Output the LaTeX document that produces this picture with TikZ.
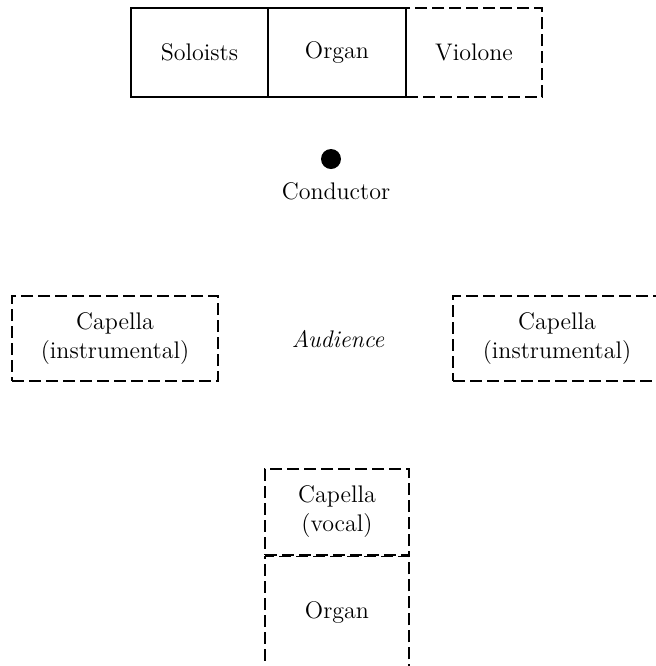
\documentclass[tikz,border=0pt]{standalone}
\usepackage{tikz}
\usetikzlibrary{positioning}

\begin{document}
\begin{tikzpicture}[x=0.5pt,y=-0.5pt,
  part/.style={draw, line width=0.7pt, inner sep=0pt, align=center,
    font=\fontsize{12}{14.5}\selectfont},
  loose/.style={part, dash pattern=on 6pt off 2.5pt}]
\useasboundingbox (0,0) rectangle (656,666);
\clip (0,0) rectangle (656,666);

% front row
\node [part, minimum width=68.5pt, minimum height=44.5pt] (soloists) at (199.5,52.5) {Soloists};
\node [part, minimum width=69pt, minimum height=44.5pt] (organtop) at (337,52.5) {Organ};
\node [loose, minimum width=68pt, minimum height=44.5pt] (violone) at (474,52.5) {Violone};
\draw [line width=0.7pt] (organtop.north east) -- (organtop.south east);

\node [circle, fill, inner sep=0pt, minimum size=10pt] (dot) at (331,159) {};
\node [font=\fontsize{12}{14.5}\selectfont, below=3pt of dot, xshift=2.5pt] (conductor) {Conductor};

% side capellas
\node [loose, minimum width=103pt, minimum height=42.5pt] (capleft) at (115,338.5) {Capella\\(instrumental)};
\node [loose, minimum width=104pt, minimum height=42.5pt] (capright) at (557,338.5) {Capella\\(instrumental)};
\node [font=\fontsize{12}{14.5}\selectfont\itshape] (audience) at (338,339) {Audience};

% back
\node [loose, minimum width=72pt, minimum height=43pt] (vocal) at (337,512) {Capella\\(vocal)};
\node [loose, minimum width=72pt, minimum height=56pt, anchor=north] (organback) at (vocal.south) {Organ};

%\draw [help lines] (0,0) grid[step=50] (656,666);
\end{tikzpicture}
\end{document}
